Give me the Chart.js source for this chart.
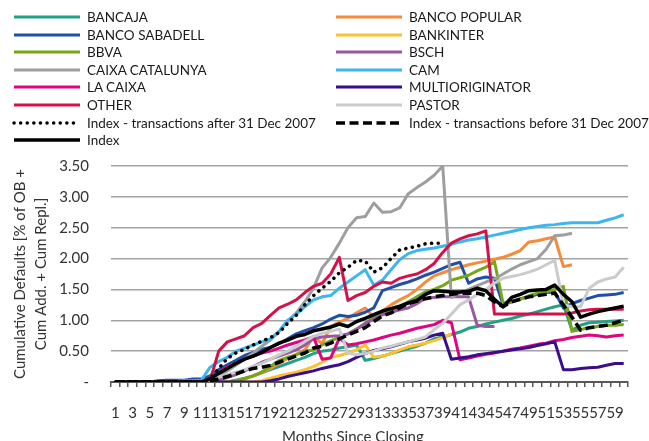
<!DOCTYPE html>
<html>
<head>
<meta charset="utf-8">
<title>Cumulative Defaults</title>
<script src="https://cdn.jsdelivr.net/npm/chart.js@4.4.1/dist/chart.umd.min.js"></script>
<style>
  html, body { margin: 0; padding: 0; background: #fff; }
  #marco { position: relative; width: 649px; height: 441px; overflow: hidden; font-family: Lato, sans-serif; }
  #grafico { position: absolute; left: 0; top: 0; }
  .ley { position: absolute; height: 16px; display: flex; align-items: center; font-size: 13.5px; color: #1a1a1a; white-space: nowrap; }
  .ley canvas { margin-right: 5px; }
  #tituloX { position: absolute; top: 427px; left: 282px; font-size: 15px; color: #333; white-space: nowrap; }
</style>
</head>
<body>
<div id="marco">
  <canvas id="grafico" width="649" height="441"></canvas>
  <div id="leyenda"></div>
  <div id="tituloX">Months Since Closing</div>
</div>
<script>
const meses = [1, 2, 3, 4, 5, 6, 7, 8, 9, 10, 11, 12, 13, 14, 15, 16, 17, 18, 19, 20,
  21, 22, 23, 24, 25, 26, 27, 28, 29, 30, 31, 32, 33, 34, 35, 36, 37, 38, 39, 40,
  41, 42, 43, 44, 45, 46, 47, 48, 49, 50, 51, 52, 53, 54, 55, 56, 57, 58, 59, 60];

const bancaja = [0, 0, 0, 0, 0, 0, 0, 0, 0, 0, 0, 0, 0, 0,
  0.03, 0.06, 0.1, 0.15, 0.2, 0.25, 0.3, 0.35, 0.4, 0.46,
  0.5, 0.52, 0.55, 0.57, 0.6, 0.35, 0.38, 0.42, 0.46, 0.5,
  0.54, 0.58, 0.63, 0.7, 0.73, 0.77, 0.81, 0.87, 0.9, 0.94,
  0.97, 1.0, 1.03, 1.07, 1.1, 1.14, 1.18, 1.22, 1.25, 0.84,
  0.92, 0.96, 0.97, 0.98, 0.99, 1.0];
const bancoPopular = [0, 0, 0, 0, 0, 0, 0, 0, 0, 0, 0, 0, 0, 0,
  0.02, 0.05, 0.1, 0.15, 0.22, 0.3, 0.38, 0.45, 0.52, 0.74,
  0.62, 0.9, 0.97, 1.03, 1.12, 1.2, 1.05, 1.15, 1.25, 1.33,
  1.4, 1.5, 1.62, 1.72, 1.77, 1.82, 1.86, 1.9, 1.93, 1.96,
  1.99, 2.02, 2.07, 2.13, 2.27, 2.29, 2.32, 2.35, 1.87, 1.9,
  null, null, null, null, null, null];
const bancoSabadell = [0, 0, 0, 0, 0,
  0.02, 0.03, 0.03, 0.03, 0.05, 0.05, 0.1, 0.2, 0.28,
  0.35, 0.43, 0.48, 0.53, 0.56, 0.62, 0.7, 0.78, 0.83, 0.88,
  0.94, 1.02, 1.08, 1.06, 1.08, 1.13, 1.2, 1.48, 1.53, 1.58,
  1.62, 1.67, 1.73, 1.78, 1.84, 1.9, 1.94, 1.6, 1.67, 1.7,
  1.68, 1.25, 1.3, 1.35, 1.38, 1.42, 1.45, 1.46, 1.2, 1.27,
  1.32, 1.36, 1.4, 1.41, 1.42, 1.45];
const bankinter = [0, 0, 0, 0, 0, 0, 0, 0, 0, 0, 0, 0, 0, 0, 0, 0, 0,
  0.02, 0.06, 0.1, 0.13, 0.16, 0.2, 0.25,
  0.32, 0.4, 0.43, 0.47, 0.52, 0.6, 0.4, 0.42, 0.46, 0.52,
  0.57, 0.6, 0.63, 0.67, 0.72, 0.78,
  null, null, null, null, null, null, null, null, null, null,
  null, null, null, null, null, null, null, null, null, null];
const bbva = [0, 0, 0, 0, 0, 0, 0, 0, 0, 0, 0, 0, 0, 0,
  0.02, 0.05, 0.1, 0.16, 0.25, 0.35, 0.4, 0.44, 0.5, 0.52,
  0.6, 0.67, 0.72, 0.78, 0.86, 0.95, 1.05, 1.12, 1.17, 1.22,
  1.3, 1.38, 1.46, 1.5, 1.56, 1.65, 1.69, 1.73, 1.8, 1.86,
  1.95, 1.28, 1.3, 1.34, 1.4, 1.44, 1.46, 1.5, 1.55, 0.82,
  0.85, 0.88, 0.9, 0.92, 0.92, 0.93];
const bsch = [0, 0, 0, 0, 0, 0, 0, 0, 0, 0, 0, 0,
  0.03, 0.07, 0.12, 0.18, 0.25, 0.32, 0.37, 0.42, 0.47, 0.52,
  0.6, 0.7, 0.73, 0.74, 0.75, 0.78, 0.85, 0.95, 1.02, 1.09,
  1.13, 1.17, 1.2, 1.27, 1.36, 1.37, 1.38, 1.38, 1.38, 1.38,
  0.92, 0.9, 0.9,
  null, null, null, null, null, null, null, null, null, null,
  null, null, null, null, null];
const caixaCatalunya = [0, 0, 0, 0, 0, 0, 0, 0, 0, 0, 0,
  0.03, 0.1, 0.18, 0.27, 0.37, 0.47, 0.58, 0.68, 0.82,
  0.98, 1.12, 1.3, 1.52, 1.85, 2.02, 2.25, 2.5, 2.66, 2.68,
  2.9, 2.75, 2.76, 2.82, 3.05, 3.15, 3.24, 3.35, 3.5, 1.37,
  1.44, 1.5, 1.56, 1.62, 1.67, 1.75, 1.83, 1.9, 1.95, 2.0,
  2.15, 2.37, 2.38, 2.41,
  null, null, null, null, null, null];
const cam = [0, 0, 0, 0, 0, 0, 0.01, 0.01, 0.02, 0.02,
  0.03, 0.24, 0.33, 0.4, 0.5, 0.55, 0.6, 0.65, 0.7, 0.82,
  1.0, 1.1, 1.22, 1.33, 1.38, 1.4, 1.52, 1.62, 1.72, 1.82,
  1.57, 1.65, 1.82, 1.98, 2.08, 2.13, 2.15, 2.17, 2.2, 2.23,
  2.27, 2.3, 2.32, 2.35, 2.38, 2.41, 2.44, 2.47, 2.5, 2.52,
  2.54, 2.55, 2.57, 2.58, 2.58, 2.58, 2.58, 2.62, 2.66, 2.71];
const laCaixa = [0, 0, 0, 0, 0, 0, 0, 0, 0, 0, 0,
  0.05, 0.15, 0.25, 0.3, 0.37, 0.42, 0.47, 0.5, 0.55,
  0.6, 0.64, 0.68, 0.73, 0.37, 0.39, 0.71, 0.6, 0.62, 0.65,
  0.68, 0.72, 0.76, 0.79, 0.83, 0.87, 0.9, 0.93, 1.0, 0.96,
  0.36, 0.39, 0.42, 0.45, 0.47, 0.5, 0.53, 0.55, 0.58, 0.61,
  0.63, 0.67, 0.69, 0.72, 0.74, 0.76, 0.75, 0.73, 0.75, 0.76];
const multioriginator = [0, 0, 0, 0, 0, 0, 0, 0, 0, 0, 0, 0, 0, 0, 0, 0, 0, 0,
  0.02, 0.05,
  0.09, 0.12, 0.15, 0.18, 0.22, 0.25, 0.28, 0.33, 0.4, 0.46,
  0.51, 0.54, 0.57, 0.61, 0.65, 0.68, 0.71, 0.76, 0.79, 0.37,
  0.39, 0.41, 0.44, 0.46, 0.48, 0.5, 0.52, 0.54, 0.56, 0.59,
  0.62, 0.65, 0.2, 0.2, 0.22, 0.23, 0.24, 0.27, 0.3, 0.3];
const other = [0, 0, 0, 0, 0, 0, 0, 0, 0, 0, 0, 0.02,
  0.5, 0.65, 0.7, 0.75, 0.88, 0.95, 1.08, 1.2,
  1.26, 1.33, 1.45, 1.55, 1.6, 1.75, 2.02, 1.32, 1.4, 1.45,
  1.55, 1.62, 1.6, 1.68, 1.72, 1.75, 1.82, 1.92, 2.1, 2.25,
  2.32, 2.37, 2.4, 2.45, 1.1, 1.1, 1.1, 1.1, 1.1, 1.1,
  1.1, 1.1, 1.1, 1.12, 1.15, 1.17, 1.18, 1.18, 1.18, 1.18];
const pastor = [0, 0, 0, 0, 0, 0, 0, 0, 0, 0, 0,
  0.03, 0.08, 0.12, 0.16, 0.2, 0.25, 0.3, 0.37, 0.44,
  0.5, 0.58, 0.66, 0.74, 0.79, 0.82, 0.86, 0.47, 0.44, 0.46,
  0.5, 0.55, 0.58, 0.62, 0.65, 0.69, 0.73, 0.85, 0.95, 1.1,
  1.25, 1.33, 1.42, 1.5, 1.6, 1.68, 1.71, 1.74, 1.78, 1.83,
  1.9, 1.97, 1.25, 1.22, 1.22, 1.52, 1.62, 1.67, 1.7, 1.86];
const indiceDespues2007 = [0, 0, 0, 0, 0, 0, 0, 0, 0, 0, 0,
  0.05, 0.22, 0.38, 0.47, 0.53, 0.6, 0.66, 0.72, 0.8,
  0.95, 1.08, 1.25, 1.4, 1.52, 1.63, 1.77, 1.86, 1.97, 1.96,
  1.78, 1.85, 2.0, 2.14, 2.17, 2.2, 2.24, 2.25, 2.25,
  null, null, null, null, null, null, null, null, null, null, null,
  null, null, null, null, null, null, null, null, null, null, null];
const indiceAntes2007 = [0, 0, 0, 0, 0, 0, 0, 0, 0, 0, 0,
  0.02, 0.05, 0.09, 0.13, 0.18, 0.22, 0.24, 0.27, 0.32,
  0.37, 0.42, 0.47, 0.55, 0.58, 0.63, 0.7, 0.76, 0.82, 0.88,
  0.98, 1.07, 1.12, 1.2, 1.27, 1.31, 1.35, 1.38, 1.4, 1.42,
  1.44, 1.44, 1.44, 1.4, 1.3, 1.22, 1.3, 1.34, 1.38, 1.4,
  1.42, 1.44, 1.25, 1.05, 0.84, 0.88, 0.9, 0.92, 0.96, 1.0];
const indice = [0, 0, 0, 0, 0, 0, 0, 0, 0, 0, 0,
  0.05, 0.14, 0.22, 0.3, 0.37, 0.42, 0.48, 0.56, 0.63,
  0.68, 0.74, 0.77, 0.83, 0.86, 0.89, 0.94, 0.9, 0.98, 1.03,
  1.09, 1.15, 1.19, 1.23, 1.28, 1.32, 1.42, 1.48, 1.47, 1.46,
  1.46, 1.47, 1.52, 1.48, 1.34, 1.22, 1.37, 1.42, 1.48, 1.49,
  1.5, 1.57, 1.42, 1.3, 1.05, 1.1, 1.14, 1.17, 1.2, 1.23];

const ticksY = [0, 0.5, 1, 1.5, 2, 2.5, 3, 3.5];

// nombre, datos, color, grosor, trazo
const series = [
  ["BANCAJA", bancaja, "#23a184", 3, [], "butt"],
  ["BANCO POPULAR", bancoPopular, "#f58b3d", 3, [], "butt"],
  ["BANCO SABADELL", bancoSabadell, "#1f4fa6", 3, [], "butt"],
  ["BANKINTER", bankinter, "#fcc22d", 3, [], "butt"],
  ["BBVA", bbva, "#74a713", 3, [], "butt"],
  ["BSCH", bsch, "#9a58a4", 3, [], "butt"],
  ["CAIXA CATALUNYA", caixaCatalunya, "#9c9ea0", 3, [], "butt"],
  ["CAM", cam, "#3cb7ee", 3, [], "butt"],
  ["LA CAIXA", laCaixa, "#e0047f", 3, [], "butt"],
  ["MULTIORIGINATOR", multioriginator, "#3a0d8a", 3, [], "butt"],
  ["OTHER", other, "#d3124a", 3, [], "butt"],
  ["PASTOR", pastor, "#c9cbcd", 3, [], "butt"],
  ["Index - transactions after 31 Dec 2007", indiceDespues2007, "#000000", 3.5, [0.1, 6.5], "round"],
  ["Index - transactions before 31 Dec 2007", indiceAntes2007, "#000000", 3.5, [9, 4.5], "butt"],
  ["Index", indice, "#000000", 3.5, [], "butt"]
];

// leyenda en dos columnas
const leyenda = document.getElementById("leyenda");
series.forEach(function (s, i) {
  const item = document.createElement("div");
  item.className = "ley";
  item.style.left = (i % 2 === 0 ? 12 : 334) + "px";
  item.style.top = (9 + Math.floor(i / 2) * 17.6) + "px";
  const c = document.createElement("canvas");
  c.width = 70;
  c.height = 8;
  const ctx = c.getContext("2d");
  ctx.strokeStyle = s[2];
  ctx.lineWidth = s[3];
  ctx.setLineDash(s[4]);
  ctx.lineCap = s[5];
  ctx.beginPath();
  ctx.moveTo(2, 4);
  ctx.lineTo(68, 4);
  ctx.stroke();
  item.appendChild(c);
  item.appendChild(document.createTextNode(s[0]));
  leyenda.appendChild(item);
});

const datasets = series.map(function (s, i) {
  return {
    label: s[0],
    data: s[1],
    borderColor: s[2],
    backgroundColor: s[2],
    borderWidth: s[3],
    borderDash: s[4],
    borderCapStyle: s[5],
    borderJoinStyle: "round",
    pointRadius: 0,
    tension: 0,
    fill: false,
    spanGaps: false,
    order: series.length - i
  };
});

new Chart(document.getElementById("grafico"), {
  type: "line",
  data: { labels: meses, datasets: datasets },
  options: {
    responsive: false,
    animation: false,
    devicePixelRatio: 1,
    layout: { padding: { top: 166, right: 21, left: 0, bottom: 0 } },
    plugins: { legend: { display: false }, tooltip: { enabled: false } },
    scales: {
      x: {
        offset: true,
        grid: { offset: true, drawOnChartArea: false, drawTicks: true, tickLength: 5, color: "#595959", lineWidth: 1.5 },
        border: { display: true, color: "#595959", width: 2 },
        ticks: {
          autoSkip: false, maxRotation: 0, minRotation: 0, padding: 17,
          color: "#333", font: { family: "Lato", size: 15 },
          callback: function (v, i) { return i % 2 === 0 ? this.getLabelForValue(v) : ""; }
        },
        afterFit: function (s) { s.height = 59; }
      },
      y: {
        min: 0,
        max: 3.5,
        afterBuildTicks: function (s) { s.ticks = ticksY.map(function (v) { return { value: v }; }); },
        grid: { color: "#a3a3a3", lineWidth: 1.5, drawTicks: false },
        border: { display: false },
        ticks: {
          padding: 22, color: "#333", font: { family: "Lato", size: 15 },
          callback: function (v) { return v === 0 ? "-" : v.toFixed(2); }
        },
        title: {
          display: true,
          text: ["Cumulative Defaults [% of OB +", "Cum Add. + Cum Repl.]"],
          color: "#333",
          font: { family: "Lato", size: 15, lineHeight: 1.4 },
          padding: { top: 9.5, bottom: 0 }
        },
        afterFit: function (s) { s.width = 111; }
      }
    }
  }
});
</script>
</body>
</html>
